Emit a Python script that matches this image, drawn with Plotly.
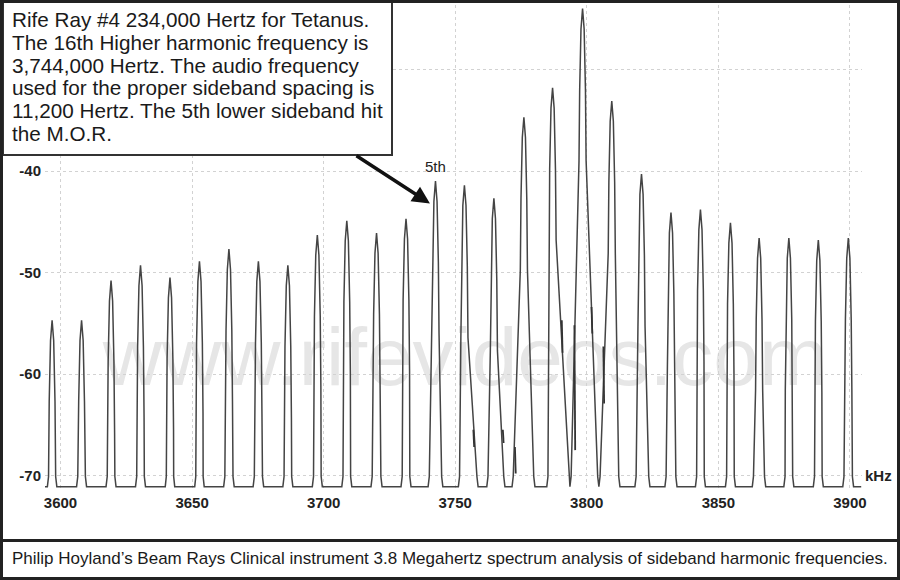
import plotly.graph_objects as go

# ---------------- data ----------------
peak_khz = [3596.8, 3608.0, 3619.2, 3630.4, 3641.6, 3652.8, 3664.0, 3675.2, 3686.4, 3697.6,
            3708.8, 3720.1, 3731.3, 3742.5, 3753.5, 3764.7, 3776.1, 3787.0, 3798.4, 3809.5,
            3820.8, 3832.0, 3843.2, 3854.6, 3865.5, 3876.8, 3888.0, 3899.4]
peak_db = [-54.7, -54.7, -50.8, -49.3, -50.5, -48.9, -47.7, -48.9, -49.3, -46.3,
           -44.9, -46.1, -44.7, -41.0, -41.4, -42.7, -34.7, -31.8, -24.0, -33.1,
           -40.3, -44.1, -43.8, -45.1, -46.6, -46.6, -46.8, -46.6]
# half-width of each peak where it meets the noise floor (kHz), left / right side
base_left_khz = [1.8, 1.9, 1.9, 1.9, 1.8, 1.8, 2.0, 2.0, 1.9, 1.9,
                 1.9, 2.1, 1.9, 2.8, 2.3, 2.7, 4.5, 2.2, 4.8, 4.9,
                 2.5, 2.3, 1.9, 1.9, 2.6, 1.9, 1.9, 2.1]
base_right_khz = [1.8, 1.9, 1.9, 1.9, 1.8, 1.8, 2.0, 2.0, 1.9, 1.9,
                  1.9, 2.1, 1.9, 2.8, 5.2, 4.2, 4.2, 6.6, 6.2, 3.1,
                  3.2, 2.3, 1.9, 1.9, 2.5, 1.9, 1.9, 2.0]
floor_db = -71.1
trace_start_khz = 3593.0
trace_end_khz = 3904.3
# shape of a peak's tip (depth below the peak in dB vs half-width in kHz), read from one isolated peak
profile_depth_db = [0.0, 2.0, 8.0, 15.0]
profile_half_khz = [0.0, 0.6, 1.1, 1.35]
flare_db = 1.0
flare_khz = 0.45

# short interference spurs in the centre of the spectrum
spur_khz = [3756.9, 3768.1, 3772.7, 3790.5, 3795.3, 3801.8, 3806.3]
spur_top_db = [-65.5, -65.5, -67.2, -54.7, -55.2, -53.4, -57.3]
spur_bottom_db = [-67.2, -66.8, -69.8, -57.9, -67.5, -56.0, -62.9]

x_ticks = [3600, 3650, 3700, 3750, 3800, 3850, 3900]
y_ticks = [-70, -60, -50, -40, -30]
y_ticktext = ["-70", "-60", "-50", "-40", ""]

note_lines = [
    "Rife Ray #4 234,000 Hertz for Tetanus.",
    "The 16th Higher harmonic frequency is",
    "3,744,000 Hertz. The audio frequency",
    "used for the proper sideband spacing is",
    "11,200 Hertz. The 5th lower sideband hit",
    "the M.O.R.",
]
caption = ("Philip Hoyland\u2019s Beam Rays Clinical instrument 3.8 Megahertz spectrum "
           "analysis of sideband harmonic frequencies.")

# ---------------- build the spectrum trace ----------------
def half_points(peak, base):
    full = peak - floor_db
    pts = [(h, peak - d) for d, h in zip(profile_depth_db, profile_half_khz)
           if d < full - flare_db - 0.5]
    fl = max(base - flare_khz, pts[-1][0] + 0.05)
    pts.append((fl, floor_db + flare_db))
    pts.append((max(base, fl + 0.1), floor_db))
    return pts

xs = [trace_start_khz]
ys = [floor_db]
for c, p, bl, br in zip(peak_khz, peak_db, base_left_khz, base_right_khz):
    left = half_points(p, bl)
    right = half_points(p, br)
    for off, lev in reversed(left):
        xs.append(c - off)
        ys.append(lev)
    for off, lev in right[1:]:
        xs.append(c + off)
        ys.append(lev)
xs.append(trace_end_khz)
ys.append(floor_db)

sx, sy = [], []
for f, t, b in zip(spur_khz, spur_top_db, spur_bottom_db):
    sx += [f, f + 0.3, None]
    sy += [t, b, None]

fig = go.Figure()
fig.add_trace(go.Scatter(x=xs, y=ys, mode="lines",
                         line=dict(color="#444444", width=1.5),
                         hoverinfo="skip", showlegend=False))
fig.add_trace(go.Scatter(x=sx, y=sy, mode="lines",
                         line=dict(color="#333333", width=1.8),
                         hoverinfo="skip", showlegend=False))

# ---------------- layout ----------------
L, R, T, B = 45, 38, 5, 90
W, H = 900, 580
PW, PH = W - L - R, H - T - B


def px(xpix):
    return (xpix - L) / PW


def py(ypix):
    return (H - B - ypix) / PH


FONT = "Liberation Sans, Arial, sans-serif"
TICKFONT = dict(family=FONT, size=15, color="#222222", weight="bold")

fig.update_layout(
    width=W, height=H,
    margin=dict(l=L, r=R, t=T, b=B),
    paper_bgcolor="white", plot_bgcolor="white",
    showlegend=False,
    font=dict(family=FONT, color="#222222"),
    xaxis=dict(range=[3594.1, 3904.6], tickvals=x_ticks, showgrid=True,
               gridcolor="#d2d2d2", griddash="dot", gridwidth=1,
               zeroline=False, showline=False, ticks="", ticklabelstandoff=2,
               tickfont=TICKFONT),
    yaxis=dict(range=[-71.43, -23.64], tickvals=y_ticks, ticktext=y_ticktext,
               showgrid=True, gridcolor="#d2d2d2", griddash="dot", gridwidth=1,
               zeroline=False, showline=False, ticks="", ticklabelstandoff=3,
               tickfont=TICKFONT),
)

shapes = [
    # watermark (behind the trace)
    dict(type="rect", xref="paper", yref="paper", x0=px(60), x1=px(870),
         y0=py(390), y1=py(306), line=dict(width=0), fillcolor="rgba(0,0,0,0)",
         layer="below",
         label=dict(text="www.rifevideos.com", textposition="middle center",
                    font=dict(family=FONT, size=82, color="#e6e6e6"))),
    # annotation box
    dict(type="rect", xref="paper", yref="paper", x0=px(3), x1=px(392),
         y0=py(155), y1=py(1), line=dict(color="#333333", width=2),
         fillcolor="white", layer="above"),
    # outer frame
    dict(type="rect", xref="paper", yref="paper", x0=px(1.5), x1=px(898.5),
         y0=py(578.5), y1=py(1.5), line=dict(color="#222222", width=3),
         fillcolor="rgba(0,0,0,0)", layer="above"),
    # caption separator
    dict(type="line", xref="paper", yref="paper", x0=px(1.5), x1=px(898.5),
         y0=py(540.5), y1=py(540.5), line=dict(color="#222222", width=3),
         layer="above"),
]
fig.update_layout(shapes=shapes)

ann = []
for i, line in enumerate(note_lines):
    ann.append(dict(text=line, xref="paper", yref="paper", x=px(10), y=py(19.8 + 22.7 * i),
                    xanchor="left", yanchor="middle", showarrow=False,
                    font=dict(family=FONT, size=20.7, color="#1a1a1a")))
ann.append(dict(text=caption, xref="paper", yref="paper", x=px(10), y=py(558),
                xanchor="left", yanchor="middle", showarrow=False,
                font=dict(family=FONT, size=17, color="#1a1a1a")))
ann.append(dict(text="kHz", xref="paper", yref="y", x=1.0, y=-70, xanchor="left",
                yanchor="middle", xshift=1, showarrow=False,
                font=TICKFONT))
ann.append(dict(text="5th", xref="x", yref="y", x=peak_khz[13], y=peak_db[13] + 1.4,
                xanchor="center", yanchor="middle", showarrow=False,
                font=dict(family=FONT, size=15, color="#222222")))
ann.append(dict(text="", xref="x", yref="y", x=peak_khz[13] - 2.1, y=peak_db[13] - 2.2,
                axref="x", ayref="y", ax=peak_khz[13] - 30.6, ay=peak_db[13] + 2.6,
                showarrow=True, arrowhead=2, arrowsize=1, arrowwidth=3.5,
                arrowcolor="#111111"))
fig.update_layout(annotations=ann)

fig.write_html("out.html")
